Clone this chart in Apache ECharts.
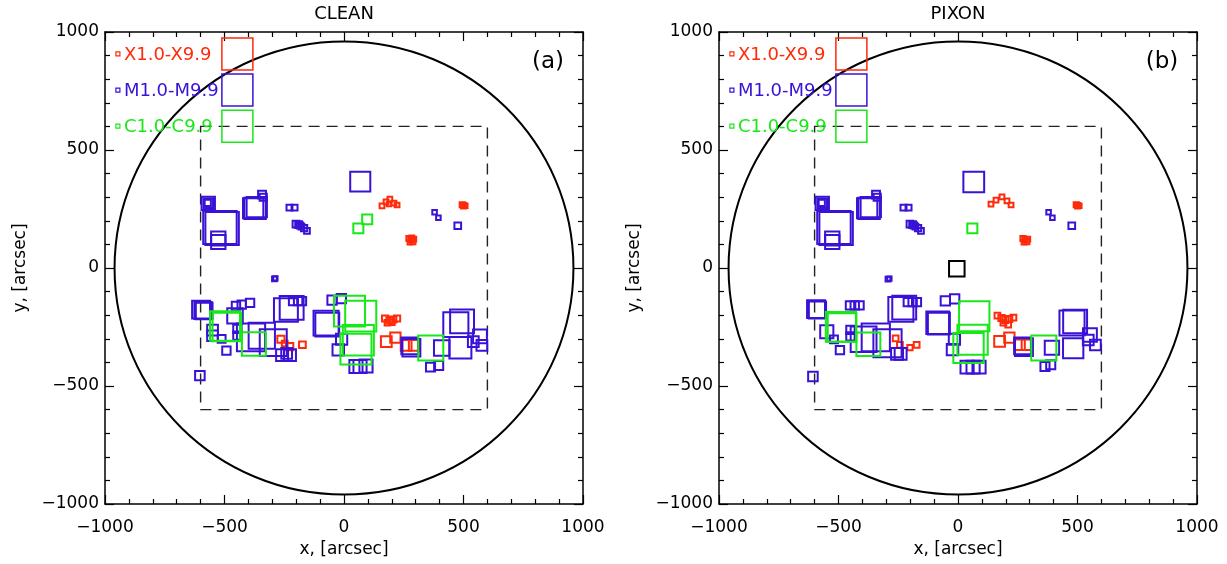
<!DOCTYPE html>
<html><head><meta charset="utf-8">
<script src="https://cdn.jsdelivr.net/npm/echarts@6/dist/echarts.min.js"></script>
<style>html,body{margin:0;padding:0;background:#fff}#c{width:1227px;height:564px}</style>
</head><body><div id="c"></div>
<script>
// ---- data (x arcsec, y arcsec, box size arcsec) ----
const panelTitles = ['CLEAN', 'PIXON'];
const panelTags = ['(a)', '(b)'];
const legendLabels = ['X1.0-X9.9', 'M1.0-M9.9', 'C1.0-C9.9'];
const axisTicks = [-1000, -500, 0, 500, 1000];
const diskRadius = 960;
const fovHalf = 600;

const cleanX = [
  [159,263,20],[176,280,20],[192,292,20],[209,275,20],[222,267,20],[188,271,18],
  [495,268,22],[502,265,20],[508,263,18],[500,262,20],
  [272,125,22],[280,119,22],[288,112,22],[276,110,20],[292,122,20],[284,128,20],
  [172,-214,26],[190,-222,26],[206,-218,26],[222,-214,26],[182,-232,24],[200,-230,24],
  [177,-312,45],[215,-295,43],[260,-328,45],[294,-328,45],
  [-264,-302,30],[-227,-333,30],[-174,-325,28],[-248,-320,24]
];
const cleanM = [
  [-568,274,56],[-568,274,40],[-570,276,26],[-519,172,140],[-510,167,140],[-526,125,60],[-526,110,60],
  [-372,253,90],[-380,253,85],[-365,258,85],[-343,311,33],[-338,300,30],
  [-228,256,25],[-207,256,25],
  [-201,186,28],[-190,184,28],[-184,180,26],[-167,169,26],[-155,157,24],[-178,175,24],
  [68,366,84],[379,236,19],[395,213,19],[476,179,28],
  [-291,-46,20],[-287,-44,18],
  [-598,-176,75],[-590,-180,72],[-585,-182,70],
  [-456,-203,65],[-452,-161,35],[-428,-155,35],[-393,-148,35],
  [-550,-263,45],[-550,-287,45],[-512,-300,33],[-492,-350,35],[-603,-456,40],
  [-446,-258,35],[-446,-287,35],
  [-389,-294,118],[-344,-287,110],
  [-296,-316,113],[-259,-369,50],[-226,-369,50],[-240,-362,45],
  [-243,-178,100],[-219,-169,100],[-213,-140,35],[-192,-140,35],[-176,-140,35],
  [-75,-234,105],[-70,-240,100],
  [-50,-136,39],[-11,-130,39],
  [-10,-302,47],[-24,-347,48],
  [50,-417,55],[67,-417,55],[92,-415,55],
  [282,-338,75],[275,-330,70],
  [409,-339,65],[362,-420,38],[396,-413,38],
  [468,-240,105],[494,-226,100],[487,-338,92],[569,-290,58],[577,-328,45],[541,-312,45]
];
const cleanC = [
  [97,206,42],[60,168,42],
  [-498,-246,125],[-490,-250,120],[-377,-322,100],
  [23,-183,130],[70,-204,130],[60,-306,130],[50,-344,130],[363,-339,105]
];
const cleanOther = [];

const pixonX = [
  [138,271,20],[159,288,20],[184,301,20],[205,284,20],[222,267,20],
  [495,268,22],[502,265,20],[508,263,18],[500,262,20],
  [272,125,22],[280,119,22],[288,112,22],[276,110,20],[292,122,20],
  [165,-202,24],[182,-212,26],[198,-220,26],[214,-216,26],[232,-210,24],[190,-232,24],[210,-240,24],
  [174,-311,45],[215,-295,43],[257,-325,45],[289,-325,45],
  [-261,-298,24],[-243,-326,24],[-201,-337,22],[-173,-326,24]
];
const pixonM = [
  [-568,274,56],[-568,274,40],[-570,276,26],[-519,172,140],[-510,167,140],[-526,125,60],[-526,110,60],
  [-372,253,90],[-380,253,85],[-365,258,85],[-343,311,33],[-338,300,30],
  [-228,256,25],[-207,256,25],
  [-201,186,28],[-190,184,28],[-184,180,26],[-167,169,26],[-155,157,24],[-178,175,24],
  [66,364,87],[379,236,19],[395,213,19],[476,179,28],
  [-293,-47,20],[-287,-45,18],
  [-594,-174,75],[-588,-178,72],
  [-452,-158,35],[-432,-158,35],[-412,-158,35],
  [-549,-270,55],[-519,-302,33],[-494,-348,35],[-607,-460,40],
  [-450,-262,35],[-450,-290,35],
  [-395,-302,108],[-344,-294,118],
  [-295,-319,118],[-255,-364,50],[-240,-364,50],
  [-239,-175,105],[-225,-168,100],[-210,-145,35],[-190,-145,35],[-172,-145,35],
  [-85,-232,95],[-80,-236,92],
  [-53,-139,39],[-14,-131,39],
  [-15,-302,47],[-23,-346,48],
  [38,-420,55],[63,-420,55],[88,-420,55],
  [276,-335,75],[270,-330,70],
  [393,-338,60],[364,-417,38],[388,-410,38],
  [477,-233,105],[490,-227,100],[482,-340,85],[552,-284,58],[575,-326,45],[545,-305,45]
];
const pixonC = [
  [60,168,42],
  [-490,-249,126],[-485,-252,120],[-375,-323,100],
  [68,-204,127],[61,-304,127],[44,-339,127],[359,-339,105]
];
const pixonOther = [[-5,-3,65]];

const classColors = ['#ff2a0a', '#3a12d6', '#18e818', '#000000'];
const panels = [
  [cleanX, cleanM, cleanC, cleanOther],
  [pixonX, pixonM, pixonC, pixonOther]
];

// ---- layout ----
const gridW = 478, gridH = 472, gridTop = 32;
const gridLefts = [105, 719];
const FONT = 'DejaVu Sans';
const fmt = v => String(v).replace('-', '\u2212');

const grids = [], xAxes = [], yAxes = [], series = [], graphics = [];

function squareSeries(gi, data, color) {
  return {
    type: 'custom', xAxisIndex: gi * 2, yAxisIndex: gi * 2, data: data, silent: true,
    renderItem: function (params, api) {
      const c = api.coord([api.value(0), api.value(1)]);
      const s = api.size([api.value(2), api.value(2)]);
      return { type: 'rect', shape: { x: c[0] - s[0] / 2, y: c[1] - s[1] / 2, width: s[0], height: s[1] },
        style: { fill: 'none', stroke: color, lineWidth: 2 } };
    }
  };
}

gridLefts.forEach(function (left, gi) {
  grids.push({ left: left, top: gridTop, width: gridW, height: gridH, containLabel: false });
  const common = {
    type: 'value', min: -1000, max: 1000, interval: 500, gridIndex: gi,
    splitLine: { show: false },
    axisLine: { show: true, onZero: false, lineStyle: { color: '#000', width: 1.5 } },
    axisTick: { show: true, inside: true, length: 9, lineStyle: { color: '#000', width: 1.2 } },
    minorTick: { show: true, splitNumber: 5, length: 5, lineStyle: { color: '#000', width: 1.2 } },
    minorSplitLine: { show: false }
  };
  xAxes.push(Object.assign({}, common, {
    position: 'bottom',
    axisLabel: { show: true, color: '#000', fontFamily: FONT, fontSize: 17, margin: 15, formatter: fmt },
    name: 'x, [arcsec]', nameLocation: 'middle', nameGap: 37,
    nameTextStyle: { color: '#000', fontFamily: FONT, fontSize: 17 }
  }));
  xAxes.push(Object.assign({}, common, { position: 'top', axisLabel: { show: false } }));
  yAxes.push(Object.assign({}, common, {
    position: 'left',
    axisLabel: { show: true, color: '#000', fontFamily: FONT, fontSize: 17, margin: 6, formatter: fmt, padding: [9, 0, 0, 0] },
    name: 'y, [arcsec]', nameLocation: 'middle', nameGap: 76,
    nameTextStyle: { color: '#000', fontFamily: FONT, fontSize: 17 }
  }));
  yAxes.push(Object.assign({}, common, { position: 'right', axisLabel: { show: false } }));

  // solar disk
  series.push({
    type: 'custom', xAxisIndex: gi * 2, yAxisIndex: gi * 2, data: [[0, 0, diskRadius]], silent: true,
    renderItem: function (params, api) {
      const c = api.coord([api.value(0), api.value(1)]);
      const s = api.size([api.value(2), api.value(2)]);
      return { type: 'ellipse', shape: { cx: c[0], cy: c[1], rx: s[0], ry: s[1] },
        style: { fill: 'none', stroke: '#000', lineWidth: 2 } };
    }
  });
  // field of view
  series.push({
    type: 'custom', xAxisIndex: gi * 2, yAxisIndex: gi * 2, data: [[-fovHalf, fovHalf, fovHalf, -fovHalf]], silent: true,
    renderItem: function (params, api) {
      const a = api.coord([api.value(0), api.value(1)]);
      const b = api.coord([api.value(2), api.value(3)]);
      return { type: 'rect', shape: { x: a[0], y: a[1], width: b[0] - a[0], height: b[1] - a[1] },
        style: { fill: 'none', stroke: '#222', lineWidth: 1.4, lineDash: [11, 7] } };
    }
  });
  panels[gi].forEach(function (data, k) { series.push(squareSeries(gi, data, classColors[k])); });

  // legend
  series.push({
    type: 'custom', xAxisIndex: gi * 2, yAxisIndex: gi * 2, silent: true,
    data: legendLabels.map(function (l, i) { return [i]; }),
    renderItem: function (params, api) {
      const i = params.dataIndex;
      const col = classColors[i];
      const p = api.coord([-946, 907 - i * 153]);
      const q = api.coord([-444, 907 - i * 153]);
      return { type: 'group', children: [
        { type: 'rect', shape: { x: p[0] - 2, y: p[1] - 2, width: 4, height: 4 }, style: { fill: 'none', stroke: col, lineWidth: 1.2 } },
        { type: 'text', x: p[0] + 6, y: p[1] + 1, style: { text: legendLabels[i], fill: col, font: '18px "' + FONT + '"', textAlign: 'left', textVerticalAlign: 'middle' } },
        { type: 'rect', shape: { x: q[0] - 16, y: q[1] - 16, width: 31, height: 32 }, style: { fill: 'none', stroke: col, lineWidth: 1.5 } }
      ] };
    }
  });

  graphics.push({ type: 'text', x: left + gridW / 2, y: 14, style: { text: panelTitles[gi], fill: '#000', font: '18px "' + FONT + '"', textAlign: 'center', textVerticalAlign: 'middle' } });
  graphics.push({ type: 'text', x: left + 443, y: 62, style: { text: panelTags[gi], fill: '#000', font: '23px "' + FONT + '"', textAlign: 'center', textVerticalAlign: 'middle' } });
});

const chart = echarts.init(document.getElementById('c'), null, { renderer: 'canvas' });
chart.setOption({
  animation: false,
  backgroundColor: '#fff',
  grid: grids, xAxis: xAxes, yAxis: yAxes, series: series, graphic: graphics
});
</script></body></html>
